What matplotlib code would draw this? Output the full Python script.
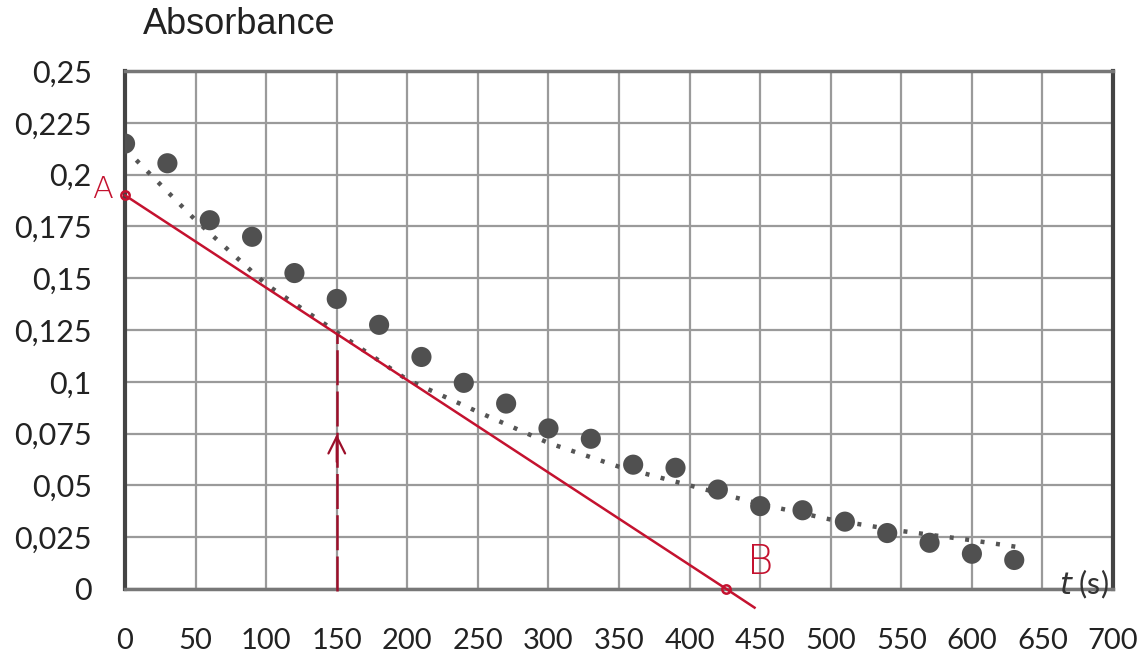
import matplotlib
matplotlib.use("Agg")
import matplotlib.pyplot as plt

# data
t_s = [0, 30, 60, 90, 120, 150, 180, 210, 240, 270, 300, 330, 360, 390, 420,
       450, 480, 510, 540, 570, 600, 630]
absorbance = [0.215, 0.2055, 0.178, 0.170, 0.1525, 0.140, 0.1275, 0.112, 0.0995,
              0.0895, 0.0775, 0.0725, 0.060, 0.0585, 0.048, 0.040, 0.038, 0.0325,
              0.027, 0.0223, 0.017, 0.014]

# dotted trend curve
trend_t = [8, 50, 100, 150, 200, 250, 300, 350, 400, 450, 500, 550, 600, 635]
trend_A = [0.207, 0.178, 0.147, 0.124, 0.101, 0.0855, 0.0705, 0.059, 0.050,
           0.041, 0.0335, 0.028, 0.0235, 0.020]

# hand-drawn tangent (A -> B) and construction line
tangent_t = [0, 426, 446]
tangent_A = [0.190, 0.0, -0.009]
point_A = (0, 0.190)
point_B = (426, 0.0)
t_half = 150
A_half = 0.123

x_ticks = list(range(0, 701, 50))
y_ticks = [0, 0.025, 0.05, 0.075, 0.1, 0.125, 0.15, 0.175, 0.2, 0.225, 0.25]
y_labels = ["0", "0,025", "0,05", "0,075", "0,1", "0,125", "0,15", "0,175",
            "0,2", "0,225", "0,25"]

RED = "#c4122f"
DARKRED = "#9c0f2a"
DOT = "#505050"
GRID = "#9a9a9a"

fig = plt.figure(figsize=(11.41, 6.58), dpi=100)
ax = fig.add_axes([0.1096, 0.1049, 0.8659, 0.7871])
ax.set_xlim(0, 700)
ax.set_ylim(0, 0.25)

ax.set_xticks(x_ticks)
ax.set_xticklabels([str(v) for v in x_ticks], fontsize=21, family="Lato",
                   color="#222222")
ax.set_yticks(y_ticks)
ax.set_yticklabels(y_labels, fontsize=22, family="Lato", color="#222222")
ax.tick_params(length=0)
ax.tick_params(axis="y", pad=24)
ax.tick_params(axis="x", pad=28)
ax.grid(True, color=GRID, lw=1.6)
ax.set_axisbelow(True)

for side, c, w in [("left", "#444444", 3.0), ("right", "#444444", 3.0),
                   ("top", "#777777", 2.5), ("bottom", "#777777", 2.5)]:
    ax.spines[side].set_color(c)
    ax.spines[side].set_linewidth(w)

# trend curve
ax.plot(trend_t, trend_A, color="#555555", lw=3.2, linestyle=(0, (0.9, 2.6)),
        zorder=3)
# data points
ax.scatter(t_s, absorbance, s=210, color=DOT, zorder=4, edgecolors="none")

# tangent line
ax.plot(tangent_t, tangent_A, color=RED, lw=1.8, zorder=5, clip_on=False)
ax.plot([point_A[0], point_B[0]], [point_A[1], point_B[1]], "o", ms=6,
        mfc="none", mec=RED, mew=1.8, zorder=6, clip_on=False)
# dashed construction line
ax.plot([t_half, t_half], [-0.001, A_half], color=DARKRED, lw=1.8,
        dashes=(14, 2.5), zorder=5, clip_on=False)
ax.annotate("", xy=(t_half, 0.076), xytext=(t_half, 0.060),
            arrowprops=dict(arrowstyle="->", color=DARKRED, lw=1.6,
                            mutation_scale=30), zorder=6)

ax.text(-16, 0.193, "A", color=RED, fontsize=22, family="DejaVu Sans",
        fontweight="light", ha="center", va="center", clip_on=False)
ax.text(450, 0.013, "B", color=RED, fontsize=29, family="DejaVu Sans",
        fontweight="light", ha="center", va="center")

ax.text(697, -0.0028, "$t$ (s)", fontsize=22, family="Lato", ha="right",
        va="baseline", color="#333333", clip_on=False)
fig.text(143 / 1141, 1 - 25 / 658, "Absorbance", fontsize=26,
         family="Liberation Sans", ha="left", va="center", color="#222222")

fig.savefig("out.png", dpi=100)
